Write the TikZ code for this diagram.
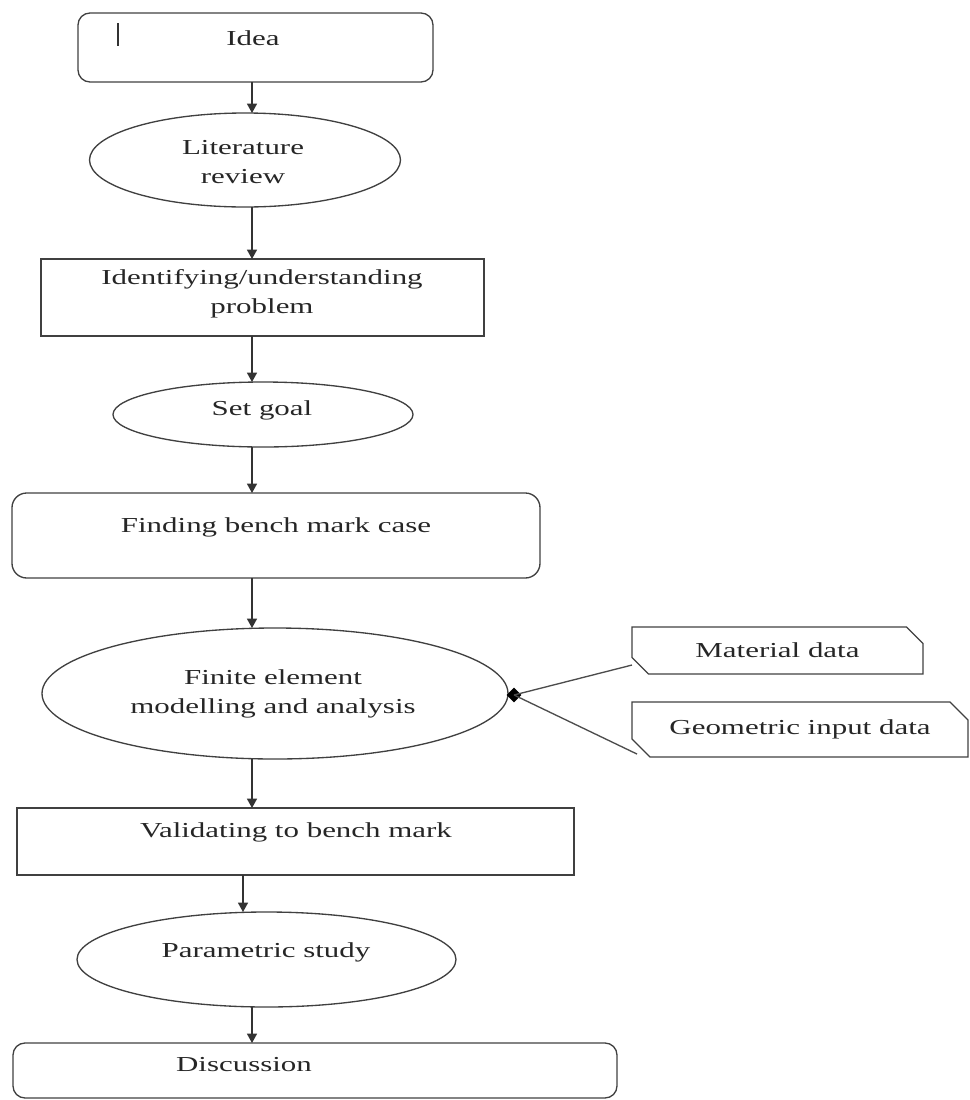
\documentclass[tikz,border=0pt]{standalone}
\usepackage{fontspec}
\setmainfont{Liberation Serif}[FakeStretch=1.45]
\usetikzlibrary{shapes.geometric,shapes.misc,arrows.meta}
\begin{document}
\begin{tikzpicture}[x=0.75pt,y=-0.75pt,
  every node/.style={inner sep=0pt, outer sep=0pt},
  shp/.style={draw=black!75, line width=1pt},
  rbox/.style={shp, rectangle, rounded corners=9pt},
  sbox/.style={shp, rectangle},
  ebox/.style={shp, ellipse},
  cbox/.style={shp, chamfered rectangle, chamfered rectangle corners={north east,south west},
    chamfered rectangle xsep=6.75pt, chamfered rectangle ysep=6.75pt,
    font=\fontsize{16pt}{21pt}\selectfont, text=black!85},
  txt/.style={font=\fontsize{16pt}{21.5pt}\selectfont, align=center, text=black!85},
  arr/.style={draw=black!80, line width=1pt, -{Triangle[length=7pt,width=7.5pt]}},
  link/.style={draw=black!70, line width=1pt}
]
\useasboundingbox (0,0) rectangle (970,1100);

% shapes
\node[rbox, minimum width=266.25pt, minimum height=51.75pt] (idea) at (255.5,47.5) {};
\node[ebox, minimum width=233.25pt, minimum height=70.5pt] (lit) at (245,160) {};
\node[sbox, minimum width=332.25pt, minimum height=57.75pt] (ident) at (262.5,297.5) {};
\node[ebox, minimum width=225pt, minimum height=48.75pt] (goal) at (263,414.5) {};
\node[rbox, rounded corners=11pt, minimum width=396pt, minimum height=63.75pt] (find) at (276,535.5) {};
\node[ebox, minimum width=349.5pt, minimum height=98.25pt] (fe) at (275,693.5) {};
\node[sbox, minimum width=417.75pt, minimum height=50.25pt] (valid) at (295.5,841.5) {};
\node[ebox, minimum width=284.25pt, minimum height=71.25pt] (param) at (266.5,959.5) {};
\node[rbox, minimum width=453pt, minimum height=41.25pt] (disc) at (315,1070.5) {};
\node[cbox, minimum width=218.25pt, minimum height=35.25pt] (mat) at (777.5,650.5) {Material data};
\node[cbox, minimum width=252pt, minimum height=41.25pt] (geo) at (800,729.5) {Geometric input data};
\node[diamond, fill=black, minimum width=11pt, minimum height=11pt] (dm) at (514,695) {};

% texts
\node[txt] (ideaT) at (253,38) {Idea};
\node[txt] (litT) at (243,162) {Literature\\review};
\node[txt] (identT) at (262,294) {Identifying/understanding\\problem};
\node[txt] (goalT) at (262,410) {Set goal};
\node[txt] (findT) at (276,527) {Finding bench mark case};
\node[txt] (feT) at (273,694) {Finite element\\modelling and analysis};
\node[txt] (validT) at (296,832) {Validating to bench mark};
\node[txt] (paramT) at (266,952) {Parametric study};
\node[txt] (discT) at (244,1065) {Discussion};

% small stroke in the Idea box
\draw[black!80, line width=1pt] (118,23) -- (118,46);

% arrow columns
\coordinate (ax) at (252,0);
\coordinate (bx) at (243,0);

\draw[arr] (idea.south -| ax) -- (lit.north -| ax);
\draw[arr] (lit.south -| ax) -- (ident.north -| ax);
\draw[arr] (ident.south -| ax) -- (goal.north -| ax);
\draw[arr] (goal.south -| ax) -- (find.north -| ax);
\draw[arr] (find.south -| ax) -- (fe.north -| ax);
\draw[arr] (fe.south -| ax) -- (valid.north -| ax);
\draw[arr] (valid.south -| bx) -- (param.north -| bx);
\draw[arr] (param.south -| ax) -- (disc.north -| ax);

% side inputs
\draw[link] ([yshift=-10.9pt]mat.west) -- (dm.center);
\draw[link] ([xshift=3.75pt,yshift=-18.4pt]geo.west) -- (dm.center);
\end{tikzpicture}
\end{document}
